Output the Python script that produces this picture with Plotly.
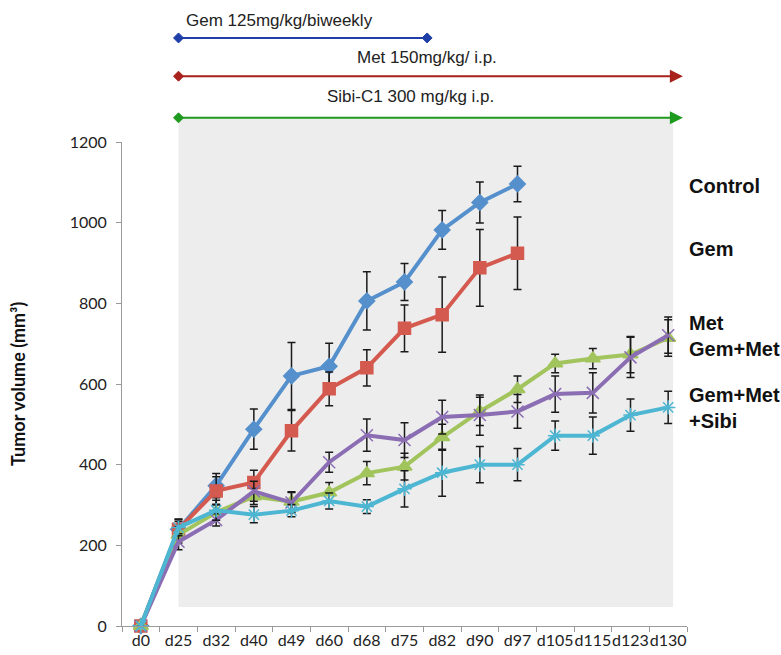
import plotly.graph_objects as go

categories = ["d0", "d25", "d32", "d40", "d49", "d60", "d68", "d75", "d82",
              "d90", "d97", "d105", "d115", "d123", "d130"]

control = [0, 240, 348, 488, 620, 644, 806, 853, 982, 1050, 1096]
control_err = [0, 20, 30, 50, 83, 57, 72, 46, 48, 51, 44]

gem = [0, 240, 335, 356, 484, 588, 640, 738, 772, 888, 924]
gem_err = [0, 25, 35, 30, 50, 42, 45, 58, 93, 95, 90]

met = [0, 226, 282, 321, 308, 331, 379, 395, 468, 532, 587, 651, 663, 673, 714]
met_err = [0, 20, 20, 20, 25, 25, 29, 33, 32, 35, 33, 23, 25, 45, 45]

gem_met = [0, 209, 263, 334, 306, 406, 473, 461, 518, 523, 532, 575, 578, 666, 721]
gem_met_err = [0, 20, 15, 25, 25, 25, 40, 43, 42, 50, 42, 45, 50, 50, 45]

gem_met_sibi = [0, 244, 287, 276, 286, 310, 296, 340, 380, 400, 400, 472, 472, 523, 542]
gem_met_sibi_err = [0, 20, 25, 20, 15, 20, 17, 45, 58, 45, 40, 36, 46, 40, 40]

series = [
    ("Control", control, control_err, "#5590CC", "diamond", 12),
    ("Gem", gem, gem_err, "#D45A4F", "square", 12),
    ("Met", met, met_err, "#A2C45C", "triangle-up", 13),
    ("Gem+Met", gem_met, gem_met_err, "#8B6DB3", "x-thin", 12),
    ("Gem+Met+Sibi", gem_met_sibi, gem_met_sibi_err, "#4DB6D2", "asterisk", 12),
]

fig = go.Figure()
for name, vals, err, color, symbol, size in series:
    fig.add_trace(go.Scatter(
        x=categories[:len(vals)], y=vals, name=name, mode="lines+markers",
        line=dict(color=color, width=4),
        marker=dict(symbol=symbol, size=size, color=color,
                    line=dict(color=color, width=1.5)),
        error_y=dict(type="data", array=err, visible=True,
                     color="#1a1a1a", thickness=1.5, width=4),
        cliponaxis=False,
    ))

# shaded treatment region
fig.add_shape(type="rect", xref="x", yref="paper", x0=1, x1=14.13,
              y0=0.039, y1=1.05, fillcolor="#EDEDED", line_width=0, layer="below")

# treatment bars
def diamond(xc, yc, color):
    fig.add_shape(type="path", xref="x", yref="paper", xsizemode="pixel",
                  ysizemode="pixel", xanchor=xc, yanchor=yc,
                  path="M -5 0 L 0 5 L 5 0 L 0 -5 Z",
                  fillcolor=color, line=dict(color=color, width=1))

gem_end = 7.6
fig.add_shape(type="line", xref="x", yref="paper", x0=1, x1=gem_end,
              y0=1.215, y1=1.215, line=dict(color="#1F3FA8", width=2))
diamond(1, 1.215, "#1F3FA8")
diamond(gem_end, 1.215, "#1F3FA8")

for yv, color in [(1.136, "#A8211C"), (1.05, "#1E9A1E")]:
    fig.add_annotation(x=14.39, y=yv, xref="x", yref="paper",
                       ax=1, axref="x", ay=0, ayref="pixel",
                       showarrow=True, arrowhead=2, arrowsize=1.3,
                       arrowwidth=2, arrowcolor=color, standoff=0, text="")
    diamond(1, yv, color)

top_font = dict(family="Liberation Sans", size=17, color="#222")
for txt, xv, yv in [("Gem 125mg/kg/biweekly", 3.69, 1.252),
                    ("Met 150mg/kg/ i.p.", 7.6, 1.174),
                    ("Sibi-C1 300 mg/kg i.p.", 7.17, 1.093)]:
    fig.add_annotation(x=xv, y=yv, xref="x", yref="paper", text=txt,
                       xanchor="center", yanchor="middle",
                       showarrow=False, font=top_font)

# right-side labels
lab_font = dict(family="Liberation Sans", size=20, color="#111")
for txt, yv in [("<b>Control</b>", 0.909), ("<b>Gem</b>", 0.779),
                ("<b>Met</b><br><b>Gem+Met</b>", 0.599),
                ("<b>Gem+Met</b><br><b>+Sibi</b>", 0.450)]:
    fig.add_annotation(x=1.0, y=yv, xref="paper", yref="paper", text=txt,
                       xanchor="left", yanchor="middle", align="left",
                       showarrow=False, font=lab_font)

# y axis title
fig.add_annotation(x=-0.184, y=0.5, xref="paper", yref="paper",
                   text="<b>Tumor volume (mm³)</b>", textangle=-90,
                   xanchor="center", yanchor="middle",
                   showarrow=False, font=dict(family="Lato", size=18, color="#111"))

fig.update_layout(
    width=781, height=655,
    margin=dict(l=122, r=94, t=142, b=29, autoexpand=False),
    plot_bgcolor="white", paper_bgcolor="white",
    showlegend=False,
    font=dict(family="Lato", size=15, color="#222"),
)
fig.update_xaxes(type="category", categoryorder="array", categoryarray=categories,
                 range=[-0.5, 14.5], showline=True, linecolor="#9a9a9a", linewidth=1,
                 ticks="outside", tickson="boundaries", ticklen=5, tickcolor="#9a9a9a",
                 tickangle=0,
                 showgrid=False, zeroline=False, automargin=False,
                 tickfont=dict(family="Lato", size=16, color="#222"))
fig.update_yaxes(range=[0, 1200], tickvals=[0, 200, 400, 600, 800, 1000, 1200],
                 showline=True, linecolor="#9a9a9a", linewidth=1,
                 ticks="outside", ticklen=5, tickcolor="#9a9a9a",
                 ticklabelstandoff=6,
                 showgrid=False, zeroline=False, automargin=False,
                 tickfont=dict(family="Lato", size=16, color="#222"))

fig.write_html("out.html")
